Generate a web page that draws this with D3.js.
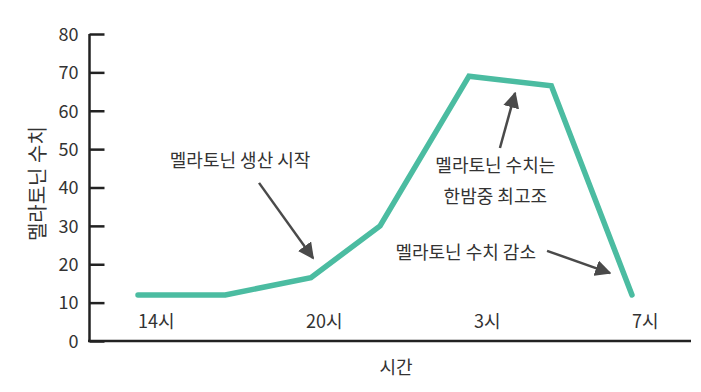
<!DOCTYPE html>
<html><head><meta charset="utf-8">
<script src="https://cdn.jsdelivr.net/npm/d3@7"></script>
<style>
html,body{margin:0;padding:0;background:#fff;}
text{font-family:"Noto Sans CJK KR","Noto Sans",sans-serif;}
</style></head>
<body>
<svg id="chart" width="701" height="392"></svg>
<script>
// Data (x: schematic position along the night, y: melatonin level)
const pointX = [0, 0.53, 1.05, 1.47, 2.01, 2.51, 3];
const melatonin = [12, 12, 16.5, 30, 69, 66.5, 12];
const timeLabels = ["14시", "20시", "3시", "7시"];
const timeLabelPos = [0, 1.02, 2.04, 3];
const yTicks = [0, 10, 20, 30, 40, 50, 60, 70, 80];
const xTitle = "시간";
const yTitle = "멜라토닌 수치";
// annotations: text lines, text anchor point, arrow start, arrow end (data units)
const annTexts = [["멜라토닌 생산 시작"], ["멜라토닌 수치는", "한밤중 최고조"], ["멜라토닌 수치 감소"]];
const annTextPos = [[0.62, 47.0], [2.17, 45.6], [1.99, 23.0]];
const annArrowFrom = [[0.735, 41.2], [2.198, 50.3], [2.484, 23.5]];
const annArrowTo = [[1.063, 21.6], [2.29, 64.6], [2.866, 17.7]];

const svg = d3.select("#chart");
const x = d3.scaleLinear().domain([0, 3]).range([138, 632]);
const y = d3.scaleLinear().domain([0, 80]).range([341, 34]);
const axisColor = "#222";
const textColor = "#333";

// y axis (ticks pointing inward)
const yAxis = svg.append("g").attr("transform", "translate(89.5,0)")
  .call(d3.axisRight(y).tickValues(yTicks).tickSize(15).tickFormat(d3.format("d")));
yAxis.select(".domain").attr("stroke", axisColor).attr("stroke-width", 2.5).attr("d", `M0,${y(80)}V${y(0)}`);
yAxis.selectAll(".tick line").attr("stroke", axisColor).attr("stroke-width", 2.5);
yAxis.selectAll(".tick text").attr("x", -11).attr("text-anchor", "end").attr("dy", "0.35em")
  .attr("fill", textColor).style("font-size", "18px").style("font-family", "'Noto Sans CJK KR', sans-serif");

// x axis line
svg.append("line").attr("x1", 88).attr("x2", 691).attr("y1", y(0)).attr("y2", y(0))
  .attr("stroke", axisColor).attr("stroke-width", 2.5);

// x tick labels
svg.append("g").selectAll("text").data(timeLabels).join("text")
  .attr("x", (d, i) => x(timeLabelPos[i]))
  .attr("y", 328)
  .attr("text-anchor", "start")
  .attr("fill", textColor).style("font-size", "18px")
  .text(d => d);

// axis titles
svg.append("text").attr("x", 396).attr("y", 374).attr("text-anchor", "middle")
  .attr("fill", textColor).style("font-size", "18px").text(xTitle);
svg.append("text").attr("transform", `translate(45,${y(41)}) rotate(-90)`).attr("text-anchor", "middle")
  .attr("fill", textColor).style("font-size", "20px").text(yTitle);

// line
const line = d3.line().x((d, i) => x(pointX[i])).y(d => y(d));
svg.append("path").datum(melatonin).attr("d", line)
  .attr("fill", "none").attr("stroke", "#4bbca1").attr("stroke-width", 5.5)
  .attr("stroke-linejoin", "miter").attr("stroke-linecap", "round");

// arrow marker
svg.append("defs").append("marker").attr("id", "arr")
  .attr("viewBox", "0 0 10 10").attr("refX", 9).attr("refY", 5)
  .attr("markerWidth", 6.5).attr("markerHeight", 6.5).attr("markerUnits", "strokeWidth")
  .attr("orient", "auto")
  .append("path").attr("d", "M0,0L10,5L0,10Z").attr("fill", "#4a4a4a");

annArrowFrom.forEach((f, i) => {
  svg.append("line")
    .attr("x1", x(f[0])).attr("y1", y(f[1]))
    .attr("x2", x(annArrowTo[i][0])).attr("y2", y(annArrowTo[i][1]))
    .attr("stroke", "#4a4a4a").attr("stroke-width", 2.5).attr("marker-end", "url(#arr)");
});

annTexts.forEach((lines, i) => {
  const t = svg.append("text").attr("text-anchor", "middle").attr("fill", textColor)
    .style("font-size", "18px");
  lines.forEach((s, j) => {
    t.append("tspan").attr("x", x(annTextPos[i][0]))
      .attr("y", y(annTextPos[i][1]) + 6 + j * 31).text(s);
  });
});
</script>
</body></html>
